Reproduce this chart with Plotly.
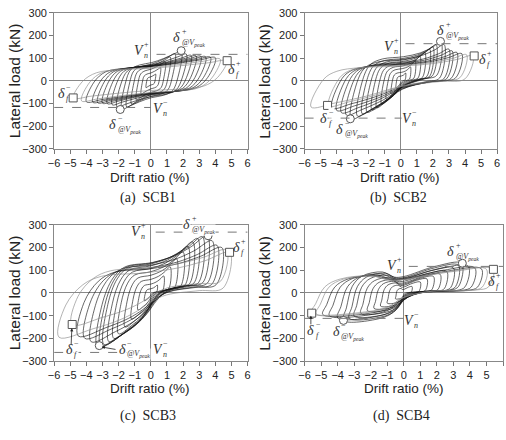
import plotly.graph_objects as go

# ---------------- data ----------------
captions = ["(a)  SCB1", "(b)  SCB2", "(c)  SCB3", "(d)  SCB4"]

# cycle peaks: positive / negative drift (%) and load (kN)
scb1_pos_drift = [0.3, 0.6, 0.9, 1.2, 1.5, 1.9, 2.2, 2.5, 2.8, 3.1, 3.4, 3.7, 4.0, 4.3, 4.7]
scb1_pos_load = [30, 58, 85, 105, 120, 132, 118, 112, 110, 108, 106, 104, 102, 96, 88]
scb1_neg_drift = [-0.3, -0.6, -0.9, -1.2, -1.5, -1.8, -2.1, -2.4, -2.7, -3.0, -3.3, -3.6, -4.0, -4.3, -4.8]
scb1_neg_load = [-30, -58, -84, -102, -115, -125, -115, -105, -100, -98, -96, -94, -92, -88, -75]

scb2_pos_drift = [0.3, 0.6, 0.9, 1.2, 1.5, 1.8, 2.0, 2.2, 2.5, 2.7, 3.0, 3.2, 3.5, 3.8, 4.1, 4.5]
scb2_pos_load = [35, 62, 88, 108, 125, 140, 150, 160, 172, 160, 140, 132, 125, 120, 115, 110]
scb2_neg_drift = [-0.3, -0.6, -0.9, -1.2, -1.5, -1.8, -2.1, -2.4, -2.7, -3.1, -3.4, -3.7, -4.0, -4.3, -4.5, -5.6]
scb2_neg_load = [-32, -58, -82, -102, -118, -128, -138, -145, -155, -168, -150, -140, -130, -120, -110, -115]

scb3_pos_drift = [0.4, 0.8, 1.2, 1.6, 2.0, 2.3, 2.6, 2.9, 3.2, 3.5, 3.8, 4.1, 4.4, 4.7, 4.9]
scb3_pos_load = [35, 75, 115, 150, 180, 205, 225, 240, 248, 252, 230, 210, 200, 190, 178]
scb3_neg_drift = [-0.4, -0.8, -1.2, -1.6, -2.0, -2.3, -2.6, -2.9, -3.1, -3.3, -3.7, -4.1, -4.5, -4.9, -5.7]
scb3_neg_load = [-35, -75, -115, -150, -180, -200, -215, -228, -235, -238, -215, -200, -190, -140, -195]

scb4_pos_drift = [0.5, 1.0, 1.4, 1.8, 2.2, 2.6, 3.0, 3.3, 3.5, 3.9, 4.3, 4.7, 5.0, 5.4]
scb4_pos_load = [28, 48, 62, 72, 82, 95, 110, 122, 130, 118, 110, 106, 104, 104]
scb4_neg_drift = [-0.5, -1.0, -1.4, -1.8, -2.2, -2.6, -3.0, -3.3, -3.65, -4.0, -4.5, -4.9, -5.3, -5.6]
scb4_neg_load = [-26, -45, -58, -68, -78, -90, -102, -112, -121, -110, -100, -95, -92, -89]

# normalised loop shape key points (fraction of drift span, fraction of load span)
scb1_up_t = [0, 0.06, 0.15, 0.3, 0.5, 0.7, 0.88, 1]
scb1_up_s = [0, 0.45, 0.68, 0.76, 0.8, 0.87, 0.95, 1]
scb1_lo_t = [1, 0.94, 0.85, 0.7, 0.5, 0.3, 0.12, 0]
scb1_lo_s = [1, 0.55, 0.32, 0.24, 0.2, 0.13, 0.05, 0]

scb2_up_t = [0, 0.08, 0.16, 0.3, 0.55, 0.75, 0.9, 1]
scb2_up_s = [0, 0.55, 0.7, 0.77, 0.8, 0.85, 0.93, 1]
scb2_lo_t = [1, 0.95, 0.8, 0.55, 0.35, 0.15, 0]
scb2_lo_s = [1, 0.55, 0.5, 0.4, 0.22, 0.08, 0]

scb3_up_t = [0, 0.04, 0.14, 0.25, 0.5, 0.7, 0.85, 1]
scb3_up_s = [0, 0.38, 0.62, 0.72, 0.76, 0.82, 0.9, 1]
scb3_lo_t = [1, 0.96, 0.82, 0.63, 0.54, 0.45, 0.35, 0.2, 0]
scb3_lo_s = [1, 0.58, 0.55, 0.5, 0.42, 0.3, 0.2, 0.1, 0]

scb4_up_t = [0, 0.025, 0.075, 0.16, 0.33, 0.43, 0.51, 0.78, 1]
scb4_up_s = [0, 0.22, 0.6, 0.78, 0.85, 0.76, 0.77, 0.95, 1]
scb4_lo_t = [1, 0.975, 0.91, 0.66, 0.51, 0.42, 0.3, 0]
scb4_lo_s = [1, 0.6, 0.53, 0.5, 0.36, 0.14, 0.03, 0]

# nominal strengths and characteristic points
vn_pos = [117, 164, 268, 117]
vn_neg = [-117, -164, -262, -112]
peak_pos_drift = [1.88, 2.47, 3.55, 3.54]
peak_pos_load = [133, 174, 252, 131]
peak_neg_drift = [-1.9, -3.15, -3.2, -3.65]
peak_neg_load = [-126, -167, -232, -121]
fail_pos_drift = [4.73, 4.57, 4.88, 5.42]
fail_pos_load = [89, 110, 179, 104]
fail_neg_drift = [-4.82, -4.57, -4.88, -5.57]
fail_neg_load = [-75, -108, -139, -89]

specs = [
    (scb1_pos_drift, scb1_pos_load, scb1_neg_drift, scb1_neg_load, scb1_up_t, scb1_up_s, scb1_lo_t, scb1_lo_s),
    (scb2_pos_drift, scb2_pos_load, scb2_neg_drift, scb2_neg_load, scb2_up_t, scb2_up_s, scb2_lo_t, scb2_lo_s),
    (scb3_pos_drift, scb3_pos_load, scb3_neg_drift, scb3_neg_load, scb3_up_t, scb3_up_s, scb3_lo_t, scb3_lo_s),
    (scb4_pos_drift, scb4_pos_load, scb4_neg_drift, scb4_neg_load, scb4_up_t, scb4_up_s, scb4_lo_t, scb4_lo_s),
]

# ---------------- layout geometry ----------------
W, H = 506, 440
x_dom = [[49 / W, 246 / W], [304 / W, 500 / W], [49 / W, 246 / W], [304 / W, 1.0]]
y_dom = [[1 - 147 / H, 1 - 7 / H], [1 - 147 / H, 1 - 7 / H],
         [1 - 365 / H, 1 - 225 / H], [1 - 365 / H, 1 - 225 / H]]

fig = go.Figure()
SERIF = "Liberation Serif"
SANS = "Liberation Sans"
TXT = "#333333"


def axnames(i):
    s = "" if i == 0 else str(i + 1)
    return "x" + s, "y" + s


for i, (pd_, pl, nd, nl, ut, us, lt, ls) in enumerate(specs):
    xr, yr = axnames(i)
    n = len(pd_)
    for k in range(n):
        dp, fp, dn, fn = pd_[k], pl[k], nd[k], nl[k]
        xs = [dn + t * (dp - dn) for t in ut] + [dn + t * (dp - dn) for t in lt[1:]]
        ys = [fn + s * (fp - fn) for s in us] + [fn + s * (fp - fn) for s in ls[1:]]
        col = "#8a8a8a" if k >= n - 2 else "#151515"
        fig.add_trace(go.Scatter(x=xs, y=ys, xaxis=xr, yaxis=yr, mode="lines",
                                 line=dict(color=col, width=0.65, shape="spline", smoothing=1.0),
                                 hoverinfo="skip"))
    # peak circles
    fig.add_trace(go.Scatter(x=[peak_pos_drift[i], peak_neg_drift[i]],
                             y=[peak_pos_load[i], peak_neg_load[i]],
                             xaxis=xr, yaxis=yr, mode="markers",
                             marker=dict(symbol="circle", size=8, color="white",
                                         line=dict(color="#555", width=1))))
    # failure squares
    fig.add_trace(go.Scatter(x=[fail_pos_drift[i], fail_neg_drift[i]],
                             y=[fail_pos_load[i], fail_neg_load[i]],
                             xaxis=xr, yaxis=yr, mode="markers",
                             marker=dict(symbol="square", size=8, color="white",
                                         line=dict(color="#555", width=1))))

# dashed nominal strength lines
vn_pos_x0 = [0.35, 0.29, 0.3, 0.3]
vn_neg_x1 = [0.0, 0.1, -0.2, 0.1]
for i in range(4):
    xr, yr = axnames(i)
    fig.add_shape(type="line", xref=xr, yref=yr, x0=vn_pos_x0[i], x1=6, y0=vn_pos[i], y1=vn_pos[i],
                  line=dict(color="#777", width=1, dash="dash"))
    fig.add_shape(type="line", xref=xr, yref=yr, x0=-6, x1=vn_neg_x1[i], y0=vn_neg[i], y1=vn_neg[i],
                  line=dict(color="#777", width=1, dash="dash"))


def sym(i, x, y, base, sup, sub, bg=None):
    xr, yr = axnames(i)
    fig.add_annotation(x=x, y=y, xref=xr, yref=yr, text="<i>" + base + "</i>", showarrow=False,
                       font=dict(family=SERIF, size=14, color=TXT), xanchor="center", yanchor="middle",
                       bgcolor=bg, borderpad=0)
    fig.add_annotation(x=x, y=y, xref=xr, yref=yr, text=sup, showarrow=False,
                       font=dict(family=SERIF, size=8, color=TXT), xanchor="left", yanchor="middle",
                       xshift=4, yshift=6, bgcolor=bg, borderpad=0)
    fig.add_annotation(x=x, y=y, xref=xr, yref=yr, text="<i>" + sub + "</i>", showarrow=False,
                       font=dict(family=SERIF, size=8, color=TXT), xanchor="left", yanchor="middle",
                       xshift=4, yshift=-5, bgcolor=bg, borderpad=0)


PEAK = "@V<sub>peak</sub>"
# SCB1
sym(0, -0.75, 135, "V", "+", "n")
sym(0, 1.6, 190, "δ", "+", PEAK)
sym(0, 5.0, 50, "δ", "+", "f")
sym(0, -5.55, -57, "δ", "−", "f")
sym(0, 0.45, -120, "V", "−", "n")
sym(0, -2.35, -193, "δ", "−", PEAK)
# SCB2
sym(1, -0.73, 150, "V", "+", "n")
sym(1, 2.49, 222, "δ", "+", PEAK)
sym(1, 5.08, 93, "δ", "+", "f")
sym(1, -4.82, -164, "δ", "−", "f", bg="white")
sym(1, 0.39, -164, "V", "−", "n", bg="white")
sym(1, -3.8, -214, "δ", "−", PEAK)
# SCB3
sym(2, -0.9, 271, "V", "+", "n")
sym(2, 2.22, 300, "δ", "+", PEAK, bg="white")
sym(2, 5.28, 200, "δ", "+", "f")
sym(2, -5.06, -251, "δ", "−", "f", bg="white")
sym(2, -1.76, -249, "δ", "−", PEAK, bg="white")
sym(2, 0.45, -251, "V", "−", "n", bg="white")
# SCB4
sym(3, -0.73, 121, "V", "+", "n")
sym(3, 2.83, 181, "δ", "+", PEAK)
sym(3, 5.29, 50, "δ", "+", "f")
sym(3, -5.64, -164, "δ", "−", "f")
sym(3, -4.1, -171, "δ", "−", PEAK)
sym(3, 0.3, -121, "V", "−", "n")

# leader arrows
arrows = [(2, -3.05, -238, -2.1, -250), (2, -4.9, -155, -4.95, -235), (3, -5.62, -100, -5.62, -145)]
for i, hx, hy, tx, ty in arrows:
    xr, yr = axnames(i)
    fig.add_annotation(x=hx, y=hy, ax=tx, ay=ty, xref=xr, yref=yr, axref=xr, ayref=yr, text="",
                       showarrow=True, arrowhead=2, arrowsize=0.8, arrowwidth=0.8, arrowcolor="#222")

# axes
for i in range(4):
    s = "" if i == 0 else str(i + 1)
    fig.update_layout(**{
        "xaxis" + s: dict(domain=x_dom[i], anchor="y" + s, range=[-6, 6], dtick=1, tick0=0,
                          ticks="outside", ticklen=4, tickcolor="#777", showline=True, linecolor="#888",
                          mirror=True, zeroline=True, zerolinecolor="#888", zerolinewidth=1,
                          showgrid=False, tickfont=dict(family=SANS, size=11, color="#222")),
        "yaxis" + s: dict(domain=y_dom[i], anchor="x" + s, range=[-300, 300], dtick=100, tick0=0,
                          ticks="outside", ticklen=4, tickcolor="#777", showline=True, linecolor="#888",
                          mirror=True, zeroline=True, zerolinecolor="#888", zerolinewidth=1,
                          showgrid=False, tickfont=dict(family=SANS, size=11, color="#222")),
    })

# axis titles and captions (pixel centres)
ylab_x = [9.5, 263.5, 9.5, 263.5]
ylab_y = [77, 77, 295, 295]
xlab_x = [147, 401, 147, 405]
xlab_y = [176.5, 176.5, 393.5, 393.5]
cap_x = [144.5, 400, 144.5, 403]
cap_y = [197.5, 197.5, 421, 421]
for i in range(4):
    fig.add_annotation(x=ylab_x[i] / W, y=1 - ylab_y[i] / H, xref="paper", yref="paper",
                       text="Lateral load (kN)", textangle=-90, showarrow=False,
                       xanchor="center", yanchor="middle",
                       font=dict(family=SANS, size=15.5, color="#222"))
    fig.add_annotation(x=xlab_x[i] / W, y=1 - xlab_y[i] / H, xref="paper", yref="paper",
                       text="Drift ratio (%)", showarrow=False,
                       xanchor="center", yanchor="middle",
                       font=dict(family=SANS, size=13.5, color="#222"))
    fig.add_annotation(x=cap_x[i] / W, y=1 - cap_y[i] / H, xref="paper", yref="paper",
                       text=captions[i], showarrow=False,
                       xanchor="center", yanchor="middle",
                       font=dict(family=SERIF, size=14, color="#222"))

fig.update_layout(width=W, height=H, margin=dict(l=0, r=0, t=0, b=0),
                  paper_bgcolor="white", plot_bgcolor="white", showlegend=False)

fig.write_html("out.html")
